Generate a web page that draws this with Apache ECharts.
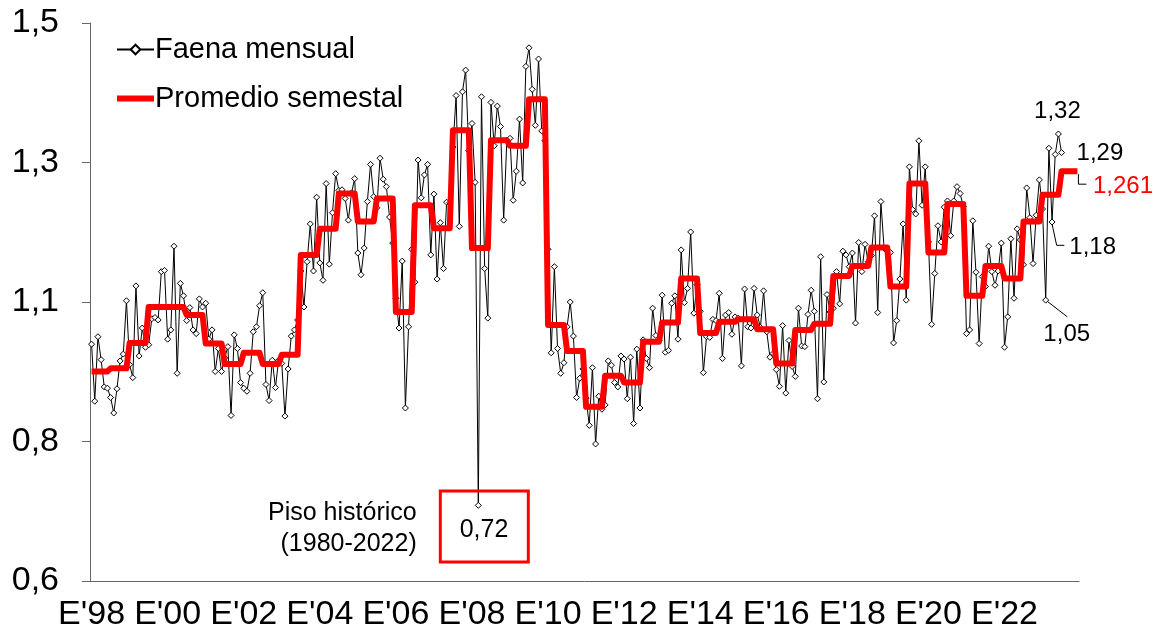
<!DOCTYPE html>
<html>
<head>
<meta charset="utf-8">
<script src="https://cdn.jsdelivr.net/npm/echarts@6/dist/echarts.min.js"></script>
<style>
html,body{margin:0;padding:0;background:#fff;}
#chart{width:1164px;height:643px;}
</style>
</head>
<body>
<div id="chart"></div>
<script>
// ---- DATA ----
const firstYear = 1998;
const lastYear = 2023;

// Faena mensual (monthly), Jan 1998 - Jul 2023
const faena1998_2002 = [
  0.982,0.890,0.994,0.957,0.913,0.911,0.896,0.871,0.910,0.955,0.966,1.052,
  0.949,0.928,1.076,0.963,1.008,0.977,0.981,1.023,1.025,1.021,1.099,1.101,
  0.990,1.005,1.140,0.935,1.080,1.060,1.020,1.041,1.005,0.999,1.055,1.042,
  1.048,0.990,1.005,0.938,0.975,0.938,0.960,0.978,0.867,0.997,0.975,0.920,
  0.911,0.906,0.935,1.002,1.010,1.044,1.065,0.917,0.891,0.956,0.912,0.956
];
const faena2003_2007 = [
  0.951,0.866,0.942,0.995,1.005,1.021,1.100,1.042,1.115,1.176,1.100,1.219,
  1.113,1.085,1.241,1.111,1.194,1.257,1.230,1.231,1.217,1.182,1.226,1.249,
  1.129,1.094,1.137,1.212,1.272,1.220,1.202,1.282,1.248,1.236,1.187,1.145,
  1.056,1.008,1.116,0.879,1.010,1.135,1.082,1.279,1.218,1.255,1.272,1.126,
  1.224,1.087,1.178,1.104,1.211,1.210,1.300,1.383,1.172,1.389,1.424,1.294
];
const faena2008_2012 = [
  1.338,1.243,0.722,1.381,1.104,1.024,1.372,1.302,1.366,1.333,1.182,1.311,
  1.314,1.214,1.261,1.345,1.242,1.430,1.460,1.393,1.335,1.442,1.326,1.310,
  1.135,0.968,1.107,0.975,0.935,0.952,1.010,1.050,0.995,0.896,0.927,0.942,
  0.895,0.851,0.944,0.821,0.898,0.877,0.884,0.955,0.948,0.920,0.913,0.963,
  0.958,0.894,0.961,0.854,0.974,0.879,0.989,0.959,0.944,1.040,0.996,0.988
];
const faena2013_2017 = [
  1.061,0.969,0.972,1.048,1.060,0.990,1.134,1.049,1.072,1.163,1.032,1.078,
  1.035,0.936,0.994,0.993,1.022,1.020,1.064,0.959,1.029,1.033,0.998,1.026,
  1.024,0.947,1.071,1.010,1.008,1.072,1.029,1.009,1.068,1.002,0.961,0.967,
  0.941,0.914,1.012,0.903,0.988,0.946,0.930,1.040,0.979,0.978,1.030,1.069,
  1.035,0.894,1.123,0.921,1.062,1.034,1.040,1.099,1.047,1.132,1.126,1.107
];
const faena2018_2023 = [
  1.129,1.016,1.146,1.099,1.143,1.115,1.125,1.189,1.033,1.212,1.137,1.132,
  1.130,0.984,1.020,1.087,1.176,1.053,1.268,1.199,1.192,1.310,1.206,1.268,
  1.147,1.014,1.096,1.173,1.147,1.203,1.213,1.157,1.213,1.236,1.225,1.204,
  0.999,1.005,1.181,1.098,0.983,1.091,1.075,1.140,1.099,1.077,1.100,1.145,
  0.977,1.026,1.152,1.056,1.168,1.150,1.110,1.234,1.186,1.112,1.190,1.247,
  1.200,1.053,1.298,1.179,1.288,1.321,1.291
];

// Promedio semestral (one value per semester, 1998-S1 .. 2023-S2)
const promedioSemestral = [
  0.938,0.943,0.984,1.042,1.042,1.029,0.983,0.950,0.968,0.950,
  0.965,1.126,1.168,1.225,1.180,1.217,1.034,1.206,1.169,1.327,
  1.137,1.311,1.302,1.377,1.013,0.971,0.881,0.931,0.920,0.986,
  1.017,1.088,1.000,1.018,1.022,1.006,0.951,1.005,1.015,1.092,
  1.108,1.138,1.075,1.241,1.130,1.208,1.060,1.108,1.088,1.180,
  1.223,1.261
];

const xTickLabels = ["E'98","E'00","E'02","E'04","E'06","E'08","E'10","E'12","E'14","E'16","E'18","E'20","E'22"];
const yTickValues = [0.6, 0.825, 1.05, 1.275, 1.5];
const yTickLabels = ['0,6','0,8','1,1','1,3','1,5'];

const seriesNames = ['Faena mensual', 'Promedio semestal'];
const annot = {
  max: {month: 305, text: '1,32'},
  last: {month: 306, text: '1,29'},
  avg: {text: '1,261'},
  mid: {month: 303, text: '1,18'},
  low: {month: 301, text: '1,05'},
  floor: {month: 122, text: '0,72', note1: 'Piso histórico', note2: '(1980-2022)'}
};

// ---- BUILD ----
const categories = [];
for (let y = firstYear; y <= lastYear; y++) {
  for (let m = 1; m <= 12; m++) categories.push(y + '-' + (m < 10 ? '0' + m : m));
}
const faena = [].concat(faena1998_2002, faena2003_2007, faena2008_2012, faena2013_2017, faena2018_2023);
const semestralMonthly = [];
promedioSemestral.forEach(v => { for (let i = 0; i < 6; i++) semestralMonthly.push(v); });

const FONT = '"Liberation Sans", Arial, sans-serif';
const chart = echarts.init(document.getElementById('chart'), null, {renderer: 'canvas'});

chart.setOption({
  animation: false,
  backgroundColor: '#fff',
  textStyle: {fontFamily: FONT},
  grid: {left: 90, right: 85, top: 23, bottom: 62, containLabel: false},
  legend: {
    data: [
      {name: seriesNames[0]},
      {name: seriesNames[1], icon: 'path://M0,0H37V6H0Z', itemStyle: {color: '#ff0000'}}
    ],
    orient: 'vertical',
    left: 111, top: 30,
    itemWidth: 37, itemHeight: 12, itemGap: 20,
    textStyle: {fontSize: 29, color: '#000', fontFamily: FONT, padding: [0,0,0,-4]}
  },
  xAxis: {
    type: 'category',
    data: categories,
    boundaryGap: true,
    axisLine: {lineStyle: {color: '#666', width: 1}},
    axisTick: {interval: 11, length: 8, lineStyle: {color: '#666'}},
    axisLabel: {
      interval: 23, margin: 17, fontSize: 34, color: '#000', fontFamily: FONT,
      formatter: (val, idx) => xTickLabels[Math.round(idx / 24)]
    },
    splitLine: {show: false}
  },
  yAxis: {
    type: 'value',
    min: 0.6, max: 1.5,
    axisLine: {show: true, lineStyle: {color: '#666', width: 1}},
    axisTick: {show: true, length: 8, customValues: yTickValues, lineStyle: {color: '#666'}},
    axisLabel: {
      customValues: yTickValues, margin: 31, fontSize: 34, color: '#000', fontFamily: FONT,
      formatter: (val) => {
        let best = 0;
        yTickValues.forEach((t, i) => { if (Math.abs(t - val) < Math.abs(yTickValues[best] - val)) best = i; });
        return yTickLabels[best];
      }
    },
    splitLine: {show: false}
  },
  series: [
    {
      name: seriesNames[0],
      type: 'line',
      data: faena,
      symbol: 'diamond',
      symbolSize: 6,
      showAllSymbol: true,
      lineStyle: {color: '#000', width: 1},
      itemStyle: {color: '#fff', borderColor: '#000', borderWidth: 1},
      z: 2
    },
    {
      name: seriesNames[1],
      type: 'line',
      data: semestralMonthly,
      symbol: 'none',
      lineStyle: {color: '#ff0000', width: 6, join: 'round'},
      itemStyle: {color: '#ff0000'},
      z: 3
    }
  ]
});

function px(month, value) {
  return chart.convertToPixel({xAxisIndex: 0, yAxisIndex: 0}, [categories[month], value]);
}
const txt = (x, y, s, align, color, size) => ({
  type: 'text', x: x, y: y, z: 10,
  style: {text: s, fill: color || '#000', font: (size || 24) + 'px ' + FONT, align: align || 'left', verticalAlign: 'middle'}
});
const line = (pts) => ({type: 'polyline', z: 10, shape: {points: pts}, style: {stroke: '#000', lineWidth: 1, fill: null}});

const pMax = px(annot.max.month, faena[annot.max.month]);
const pLast = px(annot.last.month, faena[annot.last.month]);
const lastIdx = semestralMonthly.length - 1;
const pAvg = px(lastIdx, semestralMonthly[lastIdx]);
const pMid = px(annot.mid.month, faena[annot.mid.month]);
const pLow = px(annot.low.month, faena[annot.low.month]);
const pFl = px(annot.floor.month, faena[annot.floor.month]);

chart.setOption({
  graphic: [
    txt(pMax[0] - 1, pMax[1] - 23, annot.max.text, 'center'),
    txt(pLast[0] + 15, pLast[1] + 1, annot.last.text, 'left'),
    line([[pAvg[0] + 1, pAvg[1] + 3], [pAvg[0] + 1, pAvg[1] + 13], [pAvg[0] + 9, pAvg[1] + 13]]),
    txt(pAvg[0] + 15.5, pAvg[1] + 15, annot.avg.text, 'left', '#ff0000'),
    line([[pMid[0], pMid[1] + 2], [pMid[0] + 4.6, pMid[1] + 23.3], [pMid[0] + 12.3, pMid[1] + 23.3]]),
    txt(pMid[0] + 17.3, pMid[1] + 25, annot.mid.text, 'left'),
    line([[pLow[0] + 2, pLow[1] + 1.5], [pLow[0] + 21.6, pLow[1] + 16.7]]),
    txt(pLow[0] + 21, pLow[1] + 34, annot.low.text, 'center'),
    {type: 'rect', z: 9, shape: {x: pFl[0] - 38, y: pFl[1] - 14.3, width: 88, height: 71},
     style: {stroke: '#ff0000', lineWidth: 3, fill: null}},
    txt(pFl[0] + 5.7, pFl[1] + 24.5, annot.floor.text, 'center', '#000', 25),
    txt(pFl[0] - 61.6, pFl[1] + 8, annot.floor.note1, 'right', '#000', 25),
    txt(pFl[0] - 61.6, pFl[1] + 39, annot.floor.note2, 'right', '#000', 25)
  ]
});
</script>
</body>
</html>
